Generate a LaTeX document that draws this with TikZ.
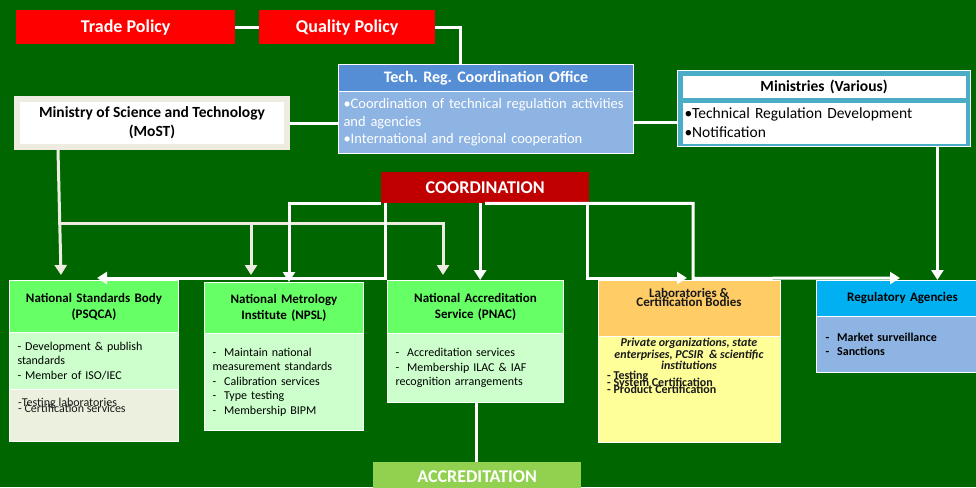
\documentclass[tikz,border=0pt]{standalone}
\usepackage{fontspec}
\setmainfont{Carlito}
\frenchspacing
\usetikzlibrary{arrows.meta}
\definecolor{bggreen}{RGB}{0,102,0}
\definecolor{polred}{RGB}{255,0,0}
\definecolor{techblue}{RGB}{85,142,213}
\definecolor{techpale}{RGB}{142,180,227}
\definecolor{mostgrey}{RGB}{238,236,225}
\definecolor{minteal}{RGB}{75,172,198}
\definecolor{coordred}{RGB}{192,0,0}
\definecolor{hdrgreen}{RGB}{102,255,102}
\definecolor{bodygreen}{RGB}{204,255,204}
\definecolor{bodygrey}{RGB}{235,241,222}
\definecolor{laborange}{RGB}{255,204,102}
\definecolor{labyellow}{RGB}{255,255,153}
\definecolor{regblue}{RGB}{0,176,240}
\definecolor{accgreen}{RGB}{146,208,80}
\begin{document}
\begin{tikzpicture}[x=1pt,y=-1pt]
        \tikzstyle{banner}=[anchor=north west,inner sep=0pt,text=white,font=\bfseries\fontsize{18}{20}\selectfont]
        \tikzstyle{hdr}=[anchor=north west,draw=white,line width=1pt,align=center,inner xsep=4pt,inner ysep=0pt,font=\bfseries\fontsize{13}{16}\selectfont]
        \tikzstyle{body}=[anchor=north west,draw=white,line width=1pt,align=left,inner xsep=8pt,inner ysep=0pt,font=\fontsize{12}{14.5}\selectfont]
        \tikzstyle{note}=[inner sep=0pt,text=black!90]
        \tikzstyle{link}=[draw=white,line width=3pt]
        \tikzstyle{flow}=[draw=white,line width=3pt,-{Triangle[length=10pt,width=12pt]}]
        \tikzstyle{gflow}=[draw=mostgrey,line width=3pt,-{Triangle[length=10pt,width=12pt]}]
        \useasboundingbox (0,0) rectangle (976,487);
        \fill[bggreen] (0,0) rectangle (976,487);
        % top policies
        \node [banner,fill=polred,minimum width=219pt,minimum height=34pt] (trade) at (16,10) {Trade Policy};
        \node [banner,fill=polred,minimum width=176pt,minimum height=34pt] (quality) at (259,10) {Quality Policy};
        % coordination office and ministries
        \node [hdr,fill=techblue,text=white,minimum height=27pt,text width=287pt,font=\bfseries\fontsize{16}{19}\selectfont] (techhead) at (338,64) {Tech. Reg. Coordination Office};
        \node [body,fill=techpale,text=white,minimum height=62pt,text width=285pt,inner xsep=5pt,font=\fontsize{14.5}{17.5}\selectfont] (techbody) at (338,91) {•Coordination of technical regulation activities\\and agencies\\•International and regional cooperation};
        \node [fill=white,draw=mostgrey,line width=6pt,minimum width=270pt,minimum height=48pt,align=center,font=\bfseries\fontsize{15.5}{19}\selectfont] (most) at (152,123) {Ministry of Science and Technology\\(MoST)};
        \node [fill=minteal,draw=white,line width=0.8pt,minimum width=293pt,minimum height=76pt] (minouter) at (823.5,108) {};
        \node [hdr,fill=white,draw=none,minimum height=22pt,text width=275pt,font=\bfseries\fontsize{15.5}{18}\selectfont] (minhead) at (682,75) {Ministries (Various)};
        \node [body,fill=white,draw=none,minimum height=41pt,text width=279pt,inner xsep=2pt,font=\fontsize{15.5}{19}\selectfont] (minbody) at (682,102) {•Technical Regulation Development\\•Notification};
        \node [banner,fill=coordred,minimum width=208pt,minimum height=31pt] (coord) at (381,172) {COORDINATION};
        % standards body
        \node [hdr,fill=hdrgreen,minimum height=52pt,text width=161pt] (psqhead) at (9,280) {National Standards Body\\(PSQCA)};
        \node [body,fill=bodygreen,minimum height=57pt,text width=153pt] (psqbody) at (9,332) {- Development \& publish\\standards\\- Member of ISO/IEC};
        \node [body,fill=bodygrey,minimum height=52pt,text width=153pt] (psqextra) at (9,389) {};
        \node [note,anchor=north west,align=left,font=\fontsize{12}{14.5}\selectfont] (psqtest) at (18,397.5) {-Testing laboratories\\[-8.5pt]- Certification services};
        % metrology institute
        \node [hdr,fill=hdrgreen,minimum height=51pt,text width=151pt] (npslhead) at (204,282) {National Metrology\\Institute (NPSL)};
        \node [body,fill=bodygreen,minimum height=97pt,text width=143pt] (npslbody) at (204,333) {-\ \ Maintain national\\measurement standards\\-\ \ Calibration services\\-\ \ Type testing\\-\ \ Membership BIPM};
        % accreditation service
        \node [hdr,fill=hdrgreen,minimum height=53pt,text width=168pt] (pnachead) at (387,280) {National Accreditation\\Service (PNAC)};
        \node [body,fill=bodygreen,minimum height=69pt,text width=160pt] (pnacbody) at (387,333) {-\ \ Accreditation services\\-\ \ Membership ILAC \& IAF\\recognition arrangements};
        % laboratories
        \node [hdr,fill=laborange,minimum height=56pt,text width=174pt] (labhead) at (598,280) {};
        \node [note,align=center,font=\bfseries\fontsize{13}{16}\selectfont] (labtitle) at (689,297.5) {Laboratories \&\\[-7pt]Certification Bodies};
        \node [body,fill=labyellow,minimum height=106pt,text width=166pt] (labbody) at (598,336) {};
        \node [note,anchor=north,align=center,font=\bfseries\itshape\fontsize{12}{14}\selectfont] (labnote) at (689,338) {Private organizations, state\\[-2.5pt]enterprises, PCSIR \ \& scientific\\[-2.5pt]institutions};
        \node [note,anchor=north west,align=left,font=\bfseries\fontsize{12}{14}\selectfont] (labsvc) at (607,371) {- Testing\\[-7pt]- System Certification\\[-7pt]- Product Certification};
        % regulatory agencies
        \node [hdr,fill=regblue,minimum height=36pt,text width=164pt] (reghead) at (816,280) {Regulatory Agencies};
        \node [body,fill=techpale,minimum height=56pt,text width=154pt,inner xsep=9pt,font=\bfseries\fontsize{12}{14}\selectfont] (regbody) at (816,316) {-\ \ Market surveillance\\-\ \ Sanctions};
        \node [banner,fill=accgreen,minimum width=208pt,minimum height=28pt] (accr) at (373,462) {ACCREDITATION};
        % connectors
        \draw[link] (trade.east) -- (quality.west);
        \draw[link] (quality.east) -| ([xshift=122pt]techhead.north west);
        \draw[link] (most.east) -- (most.east -| techbody.west);
        \draw[link] (techbody.east) -- (techbody.east -| minouter.west);
        \draw[flow] ([xshift=-33pt]minouter.south east) -- ([xshift=-33pt]minouter.south east |- reghead.north);
        \draw[gflow] ([xshift=44pt]most.south west) -- ([xshift=52pt,yshift=5pt]psqhead.north west);
        \draw[gflow] ([xshift=44pt]most.south west) ++(0,73) -| ([xshift=47pt,yshift=7pt]npslhead.north west);
        \draw[gflow] ([xshift=44pt]most.south west) ++(0,73) -| ([xshift=56pt,yshift=5pt]pnachead.north west);
        \draw[flow] (coord.south west) -| ([xshift=85pt]npslhead.north west);
        \draw[flow] ([xshift=4pt]coord.south west) |- ([xshift=88pt,yshift=2pt]psqhead.north west);
        \draw[flow] ([xshift=-5pt]coord.south) -- ([xshift=-5pt]coord.south |- pnachead.north);
        \draw[flow] (coord.south) -| ++(208,75) -- ([xshift=84pt,yshift=2pt]reghead.north west);
        \draw[flow] ([xshift=-2pt]coord.south east) |- ([xshift=89pt,yshift=2pt]labhead.north west);
        \draw[link] ([xshift=89pt]pnacbody.south west) -- ([xshift=89pt]pnacbody.south west |- accr.north);
\end{tikzpicture}
\end{document}
